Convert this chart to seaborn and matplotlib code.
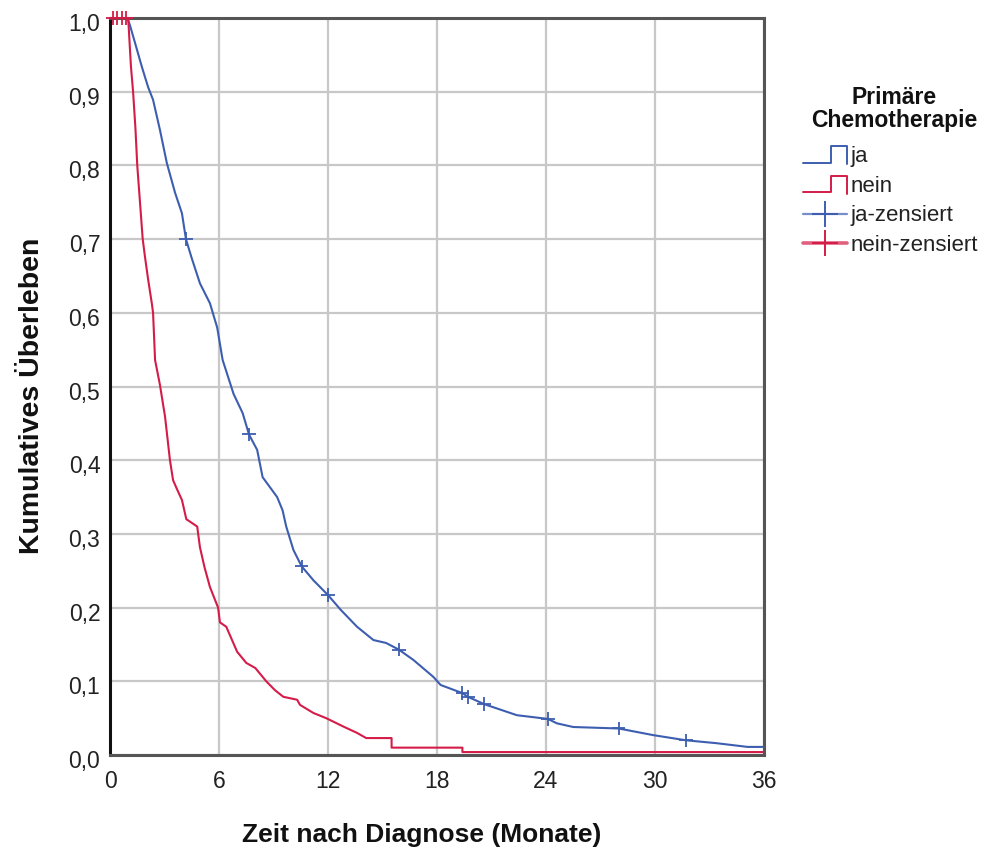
import pandas as pd
import matplotlib
matplotlib.use("Agg")
import matplotlib.pyplot as plt
import matplotlib.transforms as mtransforms
import seaborn as sns
from matplotlib.lines import Line2D
from matplotlib.legend_handler import HandlerBase

# Kaplan-Meier estimates (months, cumulative survival)
ja_time = [0, 0.95, 1.1, 1.38, 1.75, 2.1, 2.37, 2.75, 3.13, 3.58, 3.96, 4.18, 4.5,
           4.95, 5.5, 5.9, 6.2, 6.8, 7.3, 7.65, 8.1, 8.4, 9.2, 9.5, 9.7, 10.1,
           10.55, 11.2, 12.0, 12.7, 13.6, 14.5, 15.2, 15.9, 16.7, 17.8, 18.2,
           19.4, 19.7, 20.6, 22.4, 24.1, 24.6, 25.5, 28.0, 29.9, 31.7, 33.4,
           35.1, 36]
ja_surv = [1.0, 1.0, 0.99, 0.966, 0.934, 0.906, 0.889, 0.848, 0.803, 0.763, 0.735,
           0.70, 0.674, 0.64, 0.613, 0.58, 0.536, 0.49, 0.464, 0.435, 0.414, 0.377,
           0.35, 0.332, 0.31, 0.278, 0.256, 0.237, 0.217, 0.197, 0.174, 0.156,
           0.152, 0.143, 0.129, 0.106, 0.095, 0.084, 0.079, 0.069, 0.054, 0.049,
           0.043, 0.038, 0.036, 0.027, 0.02, 0.016, 0.011, 0.011]

nein_time = [0, 1.0, 1.15, 1.27, 1.4, 1.5, 1.65, 1.8, 1.93, 2.1, 2.3, 2.37, 2.48,
             2.75, 3.03, 3.3, 3.47, 3.7, 3.96, 4.2, 4.8, 4.95, 5.2, 5.5, 5.95, 6.05,
             6.4, 7.0, 7.5, 8.0, 8.62, 9.08, 9.54, 10.3, 10.46, 11.2, 11.9, 12.9,
             13.6, 14.1, 15.5, 15.5, 19.4, 19.4, 36]
nein_surv = [1.0, 1.0, 0.935, 0.90, 0.85, 0.80, 0.75, 0.70, 0.675, 0.645, 0.613,
             0.60, 0.536, 0.502, 0.459, 0.40, 0.373, 0.36, 0.346, 0.32, 0.31, 0.282,
             0.255, 0.228, 0.20, 0.18, 0.174, 0.14, 0.125, 0.118, 0.0995, 0.088,
             0.079, 0.075, 0.068, 0.057, 0.05, 0.038, 0.03, 0.023, 0.023, 0.01,
             0.01, 0.004, 0.004]

# censored observations
ja_cens_time = [4.18, 7.65, 10.55, 12.0, 15.9, 19.4, 19.7, 20.6, 24.1, 28.0, 31.7]
ja_cens_surv = [0.70, 0.435, 0.256, 0.217, 0.143, 0.084, 0.079, 0.069, 0.049, 0.036, 0.02]
nein_cens_time = [0.15, 0.4, 0.65, 0.9]
nein_cens_surv = [1.0, 1.0, 1.0, 1.0]

x_ticks = [0, 6, 12, 18, 24, 30, 36]
y_ticks = [0.0, 0.1, 0.2, 0.3, 0.4, 0.5, 0.6, 0.7, 0.8, 0.9, 1.0]

BLUE = "#3d5eb0"
RED = "#d41c48"

curves = pd.concat([
    pd.DataFrame({"time": ja_time, "surv": ja_surv, "gruppe": "ja"}),
    pd.DataFrame({"time": nein_time, "surv": nein_surv, "gruppe": "nein"}),
])
censored = pd.concat([
    pd.DataFrame({"time": ja_cens_time, "surv": ja_cens_surv, "gruppe": "ja"}),
    pd.DataFrame({"time": nein_cens_time, "surv": nein_cens_surv, "gruppe": "nein"}),
])

sns.set_style("white")
plt.rcParams["font.family"] = ["Liberation Sans", "DejaVu Sans"]

fig = plt.figure(figsize=(9.84, 8.49), dpi=100)
ax = fig.add_axes([0.1118, 0.1107, 0.6646, 0.8681])

palette = {"ja": BLUE, "nein": RED}
sns.lineplot(data=curves, x="time", y="surv", hue="gruppe", palette=palette,
             linewidth=1.5, estimator=None, sort=False,
             legend=False, ax=ax, zorder=3)
sns.scatterplot(data=censored, x="time", y="surv", hue="gruppe", palette=palette,
                marker="+", s=95, linewidth=1.3, legend=False, ax=ax, zorder=4,
                clip_on=False)

ax.set_xlim(0, 36)
ax.set_ylim(0, 1.0)
ax.set_xticks(x_ticks)
ax.set_yticks(y_ticks)
ax.set_xticklabels([str(t) for t in x_ticks])
ax.set_yticklabels([f"{v:.1f}".replace(".", ",") for v in y_ticks])
ax.tick_params(axis="both", length=0, labelsize=16.5, colors="#222222")
ax.tick_params(axis="x", pad=11)
ax.tick_params(axis="y", pad=7)
shift = mtransforms.ScaledTranslation(0, -4 / 100, fig.dpi_scale_trans)
for lbl in ax.get_yticklabels():
    lbl.set_transform(lbl.get_transform() + shift)
ax.grid(True, color="#c8c8c8", linewidth=1.6)
ax.set_axisbelow(True)
for side in ["top", "right", "bottom"]:
    ax.spines[side].set_color("#555555")
    ax.spines[side].set_linewidth(2.2)
ax.spines["left"].set_color("#111111")
ax.spines["left"].set_linewidth(2.2)

ax.set_xlabel("Zeit nach Diagnose (Monate)", fontsize=19, fontweight="bold",
              color="#111111")
ax.set_ylabel("Kumulatives Überleben", fontsize=20.5, fontweight="bold",
              color="#111111")
ax.xaxis.set_label_coords(0.477, -0.092)
ax.yaxis.set_label_coords(-0.1, 0.487)


class StepHandler(HandlerBase):
    def create_artists(self, legend, orig_handle, xdescent, ydescent, width,
                       height, fontsize, trans):
        x0, x1 = -xdescent, -xdescent + width
        xm = x0 + 0.62 * width
        y0, y1 = -ydescent + 0.05 * height, -ydescent + height * 0.95
        line = Line2D([x0, xm, xm, x1, x1], [y0, y0, y1, y1, y0 - 0.1 * height],
                      color=orig_handle.get_color(), linewidth=1.4, transform=trans)
        return [line]


class CensHandler(HandlerBase):
    def create_artists(self, legend, orig_handle, xdescent, ydescent, width,
                       height, fontsize, trans):
        x0, x1 = -xdescent, -xdescent + width
        yc = -ydescent + height / 2
        line = Line2D([x0, x1], [yc, yc], color=orig_handle.get_color(),
                      alpha=0.7, linewidth=orig_handle.get_linewidth(), transform=trans)
        mark = Line2D([(x0 + x1) / 2], [yc], marker="+", markersize=19,
                      markeredgewidth=1.4, color=orig_handle.get_color(),
                      linestyle="none", transform=trans)
        return [line, mark]


h_ja = Line2D([], [], color=BLUE)
h_nein = Line2D([], [], color=RED)
h_ja_c = Line2D([], [], color=BLUE, linewidth=1.6)
h_nein_c = Line2D([], [], color=RED, linewidth=2.6)

fig.text(894 / 984, 1 - 86 / 849, "Primäre\nChemotherapie", ha="center", va="top",
         fontsize=16.5, fontweight="bold", color="#111111", linespacing=1.0)

leg = fig.legend([h_ja, h_nein, h_ja_c, h_nein_c],
                 ["ja", "nein", "ja-zensiert", "nein-zensiert"],
                 handler_map={h_ja: StepHandler(), h_nein: StepHandler(),
                              h_ja_c: CensHandler(), h_nein_c: CensHandler()},
                 loc="upper left", bbox_to_anchor=(803 / 984, 1 - 145 / 849),
                 frameon=False, fontsize=16, handlelength=2.0, handleheight=0.9,
                 handletextpad=0.12, labelspacing=0.35, borderaxespad=0,
                 borderpad=0)
for t in leg.get_texts():
    t.set_color("#222222")

fig.savefig("out.png", dpi=100)
